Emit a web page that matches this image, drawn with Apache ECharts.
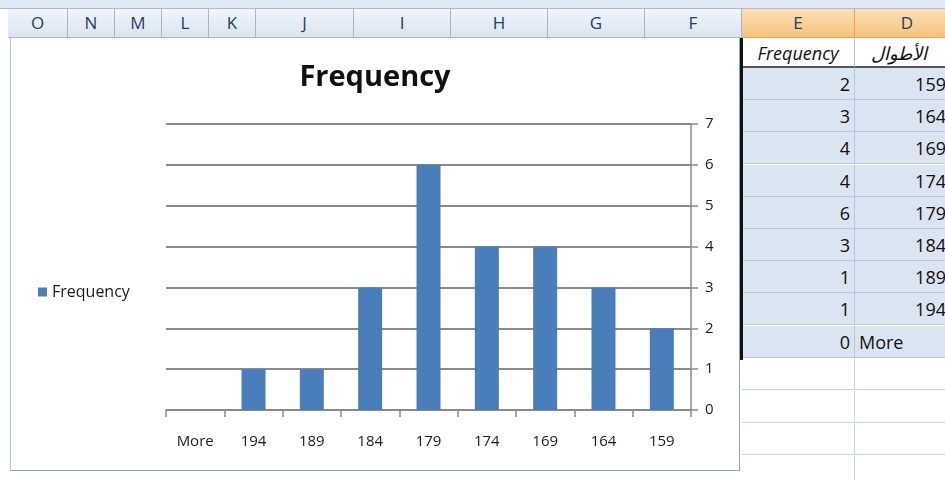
<!DOCTYPE html>
<html>
<head>
<meta charset="utf-8">
<script src="https://cdn.jsdelivr.net/npm/echarts@6/dist/echarts.min.js"></script>
<style>
  body { margin: 0; width: 945px; height: 480px; overflow: hidden; background: #fff; font-family: 'Open Sans', 'Liberation Sans', sans-serif; position: relative; }
  .topstrip { position: absolute; left: 0; top: 0; width: 945px; height: 8px; background: #dfe8f5; border-bottom: 1px solid #a9bfd6; }
  .colhead { position: absolute; top: 9px; height: 29px; box-sizing: border-box; border-right: 1px solid #9eb6ce; border-bottom: 1px solid #9eb6ce;
    background: linear-gradient(#f1f5fb, #d9e4f2); color: #27405f; font-size: 17px; text-align: center; line-height: 28px; }
  .colhead.sel { background: linear-gradient(#fbe1b4, #f6c27e); border-right-color: #f0a04a; border-bottom-color: #f0a04a; }
  #chart { position: absolute; left: 10px; top: 38px; width: 728px; height: 432px; border-left: 1px solid #b9c3cf; border-bottom: 1px solid #9aa4ae; border-right: 1px solid #9aa4ae; }
  .cell { position: absolute; box-sizing: border-box; height: 32px; line-height: 32px; font-size: 18px; color: #111; overflow: hidden; white-space: nowrap;
    border-bottom: 1px solid #b7c7de; border-right: 1px solid #b7c7de; }
  .data { background: #dbe4f1; }
  .blank { background: #fff; border-bottom-color: #c6d3e6; border-right-color: #c6d3e6; }
  .hdr { background: #fff; font-style: italic; height: 30px; line-height: 30px; border-bottom: 2px solid #555; }
  .frame { position: absolute; left: 740px; top: 38px; width: 3px; height: 322px; background: #111; }
</style>
</head>
<body>
<div class="topstrip"></div>
<div id="heads"></div>
<div id="chart"></div>
<div id="table"></div>
<div class="frame"></div>
<script>
// histogram data (read from the sheet)
const categories = ['159', '164', '169', '174', '179', '184', '189', '194', 'More'];
const frequency = [2, 3, 4, 4, 6, 3, 1, 1, 0];
const yTicks = [0, 1, 2, 3, 4, 5, 6, 7];

// sheet column headers, right to left sheet
const columnLetters = ['O', 'N', 'M', 'L', 'K', 'J', 'I', 'H', 'G', 'F', 'E', 'D'];
const columnEdges = [8, 68, 115, 162, 209, 256, 354, 451, 548, 645, 742, 855, 960];
const tableHeaders = ['Frequency', 'الأطوال'];

let heads = '';
columnLetters.forEach((c, i) => {
  const l = columnEdges[i];
  const w = columnEdges[i + 1] - l;
  const sel = c === 'E' || c === 'D' ? ' sel' : '';
  heads += `<div class="colhead${sel}" style="left:${l}px;width:${w}px">${c}</div>`;
});
document.getElementById('heads').innerHTML = heads;

// frequency table on the right (columns E and D)
const eL = 742, dL = 855, eW = 113, dW = 96;
let t = '';
t += `<div class="cell hdr" style="left:${eL}px;top:38px;width:${eW}px;text-align:center">${tableHeaders[0]}</div>`;
t += `<div class="cell hdr" style="left:${dL}px;top:38px;width:${dW}px;text-align:left;padding-left:16px;direction:rtl;unicode-bidi:plaintext">${tableHeaders[1]}</div>`;
categories.forEach((cat, i) => {
  const top = 68 + i * 32.2;
  const isText = isNaN(Number(cat));
  t += `<div class="cell data" style="left:${eL}px;top:${top}px;width:${eW}px;text-align:right;padding-right:4px">${frequency[i]}</div>`;
  t += `<div class="cell data" style="left:${dL}px;top:${top}px;width:${dW}px;text-align:${isText ? 'left' : 'right'};padding:0 4px">${cat}</div>`;
});
for (let r = 0; r < 4; r++) {
  const top = 358 + r * 32.5;
  t += `<div class="cell blank" style="left:${eL}px;top:${top}px;width:${eW}px"></div>`;
  t += `<div class="cell blank" style="left:${dL}px;top:${top}px;width:${dW}px"></div>`;
}
document.getElementById('table').innerHTML = t;

const chart = echarts.init(document.getElementById('chart'));
chart.setOption({
  animation: false,
  textStyle: { fontFamily: 'Open Sans' },
  title: {
    text: 'Frequency',
    left: 'center',
    top: 20,
    textStyle: { fontSize: 29, fontWeight: 'bold', color: '#111' }
  },
  legend: {
    data: ['Frequency'],
    left: 22,
    top: 241,
    itemWidth: 9,
    itemHeight: 9,
    icon: 'rect',
    textStyle: { fontSize: 16, color: '#1a1a1a' }
  },
  grid: {
    left: 155,
    right: 48,
    top: 86,
    bottom: 60
  },
  xAxis: {
    type: 'category',
    inverse: true,
    data: categories,
    axisLine: { lineStyle: { color: '#8a8a8a', width: 1.5 } },
    axisTick: { show: true, length: 7, lineStyle: { color: '#8a8a8a', width: 1.5 } },
    axisLabel: { fontSize: 15, color: '#1a1a1a', margin: 24 }
  },
  yAxis: {
    type: 'value',
    position: 'right',
    min: 0,
    max: 7,
    interval: 1,
    axisLine: { show: true, lineStyle: { color: '#8a8a8a', width: 1.5 } },
    axisTick: { show: true, length: 7, lineStyle: { color: '#8a8a8a', width: 1.5 } },
    axisLabel: { fontSize: 15, color: '#1a1a1a', margin: 14, formatter: (v) => (yTicks.includes(v) ? v : '') },
    splitLine: { lineStyle: { color: '#8a8a8a', width: 2 } }
  },
  series: [
    {
      name: 'Frequency',
      type: 'bar',
      data: frequency,
      barWidth: 24,
      itemStyle: { color: '#4a7ebb', borderWidth: 0 }
    }
  ]
});
</script>
</body>
</html>
